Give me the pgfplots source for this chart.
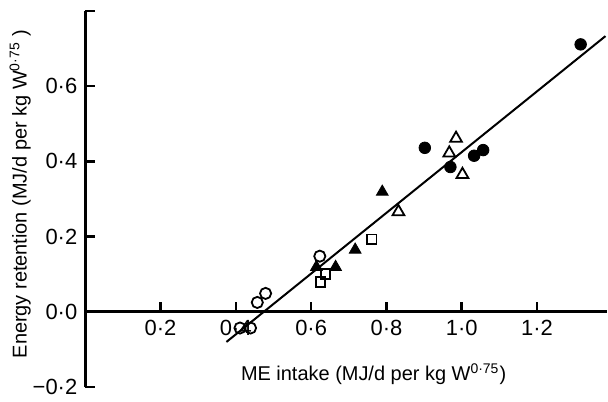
\documentclass[border=0pt]{standalone}
\usepackage{fontspec}
\setmainfont{Liberation Sans}
\usepackage{pgfplots}
\pgfplotsset{compat=1.18}
\begin{document}
\begin{tikzpicture}
\begin{axis}[
 width=261.25pt, height=188.5pt, scale only axis,
 xmin=0, xmax=1.385, ymin=-0.2, ymax=0.8,
 axis lines=middle, axis line style={-, line width=1.4pt},
 hide obscured x ticks=false, hide obscured y ticks=false,
 xtick={0.2,0.4,0.6,0.8,1.0,1.2},
 xticklabels={0·2,0·4,0·6,0·8,1·0,1·2},
 ytick={-0.2,0,0.2,0.4,0.6,0.8},
 yticklabels={−0·2,0·0,0·2,0·4,0·6,{}},
 minor tick num=0,
 tick align=inside,
 major tick length=5pt,
 tick style={line width=1.3pt, black},
 ticklabel style={font=\fontsize{11}{13}\selectfont},
 xticklabel style={anchor=north, yshift=-0.5pt},
 yticklabel style={anchor=east, xshift=-0.5pt},
 clip=false,
]
\addplot[no marks, line width=1pt] coordinates {(0.375,-0.080) (1.382,0.733)};
% filled circles
\addplot[only marks, mark=*, mark size=2.9pt, black] coordinates {
 (1.316,0.711) (0.902,0.436) (0.970,0.385) (1.033,0.415) (1.057,0.430)};
% open triangles
\addplot[only marks, mark=triangle, mark size=3.4pt, black, line width=0.9pt, mark options={fill=white}] coordinates {
 (0.985,0.461) (0.967,0.422) (1.002,0.365) (0.832,0.266)};
% filled triangles
\addplot[only marks, mark=triangle*, mark size=3.4pt, black] coordinates {
 (0.789,0.319) (0.717,0.165) (0.665,0.119) (0.614,0.119)};
% open squares
\addplot[only marks, mark=square, mark size=2.4pt, black, line width=0.9pt, mark options={fill=white}] coordinates {
 (0.761,0.193) (0.638,0.101) (0.625,0.079)};
% open circles
\addplot[only marks, mark=o, mark size=2.8pt, black, line width=0.9pt, mark options={fill=white}] coordinates {
 (0.623,0.148) (0.479,0.049) (0.457,0.025) (0.411,-0.043) (0.439,-0.043)};
\node[rotate=90, font=\fontsize{10}{12}\selectfont] at (rel axis cs:-0.125,0.513) {Energy retention (MJ/d per kg W\textsuperscript{0·75} )};
\node[font=\fontsize{10}{12}\selectfont] at (rel axis cs:0.553,0.0345) {ME intake (MJ/d per kg W\textsuperscript{0·75})};
\path (rel axis cs:-0.1636,-0.029) rectangle (rel axis cs:1,1.029);
\end{axis}
\end{tikzpicture}
\end{document}
